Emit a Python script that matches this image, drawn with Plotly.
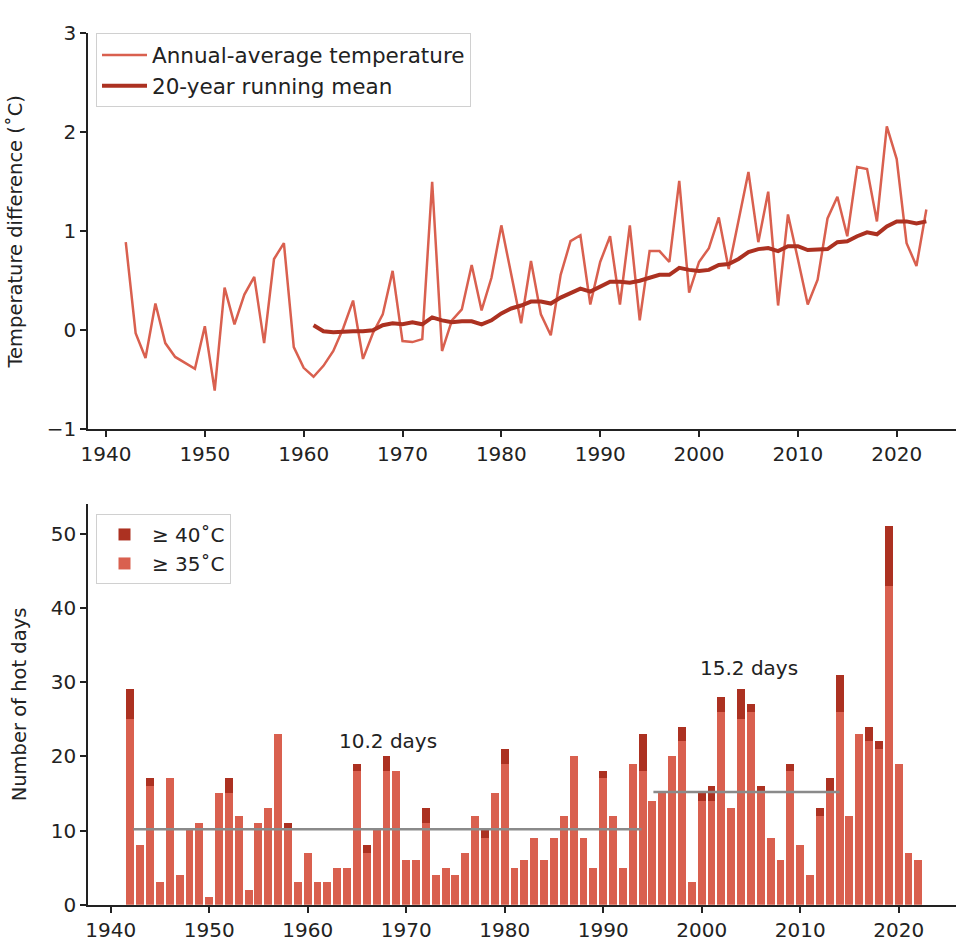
import plotly.graph_objects as go

# ---------------- data ----------------
years_temp = list(range(1942, 2024))
annual_temp = [0.89, -0.03, -0.28, 0.27, -0.13, -0.27, -0.33, -0.39, 0.04, -0.61,
               0.43, 0.06, 0.36, 0.54, -0.13, 0.72, 0.88, -0.17, -0.38, -0.47,
               -0.36, -0.21, 0.02, 0.30, -0.29, -0.03, 0.16, 0.60, -0.11, -0.12,
               -0.09, 1.50, -0.21, 0.10, 0.21, 0.66, 0.20, 0.53, 1.06, 0.56,
               0.07, 0.70, 0.16, -0.05, 0.56, 0.90, 0.96, 0.26, 0.69, 0.95,
               0.26, 1.06, 0.10, 0.80, 0.80, 0.69, 1.51, 0.38, 0.69, 0.83,
               1.14, 0.62, 1.10, 1.60, 0.89, 1.40, 0.25, 1.17, 0.72, 0.26,
               0.51, 1.13, 1.35, 0.95, 1.65, 1.63, 1.10, 2.06, 1.73, 0.88,
               0.65, 1.22]

years_mean = list(range(1961, 2024))
running_mean = [0.05, -0.01, -0.02, -0.01, -0.01, -0.01, 0.00, 0.05, 0.07, 0.06,
                0.08, 0.06, 0.13, 0.10, 0.08, 0.09, 0.09, 0.06, 0.10, 0.17,
                0.22, 0.25, 0.29, 0.29, 0.27, 0.33, 0.38, 0.42, 0.39, 0.44,
                0.49, 0.49, 0.48, 0.50, 0.53, 0.56, 0.56, 0.63, 0.61, 0.60,
                0.61, 0.66, 0.67, 0.72, 0.79, 0.82, 0.83, 0.80, 0.85, 0.85,
                0.81, 0.82, 0.82, 0.89, 0.90, 0.95, 0.99, 0.97, 1.05, 1.10,
                1.10, 1.08, 1.10]

years_hot = list(range(1942, 2023))
days_35 = [29, 8, 17, 3, 17, 4, 10, 11, 1, 15,
           17, 12, 2, 11, 13, 23, 11, 3, 7, 3,
           3, 5, 5, 19, 8, 10, 20, 18, 6, 6,
           13, 4, 5, 4, 7, 12, 10, 15, 21, 5,
           6, 9, 6, 9, 12, 20, 9, 5, 18, 12,
           5, 19, 23, 14, 15, 20, 24, 3, 15, 16,
           28, 13, 29, 27, 16, 9, 6, 19, 8, 4,
           13, 17, 31, 12, 23, 24, 22, 51, 19, 7,
           6]
days_40_by_year = {1942: 4, 1944: 1, 1952: 2, 1958: 1, 1965: 1, 1966: 1, 1968: 2,
                   1972: 2, 1978: 1, 1980: 2, 1990: 1, 1994: 5, 1998: 2, 2000: 1,
                   2001: 2, 2002: 2, 2004: 4, 2005: 1, 2006: 1, 2009: 1, 2012: 1,
                   2013: 2, 2014: 5, 2017: 2, 2018: 1, 2019: 8}
days_40 = [days_40_by_year.get(y, 0) for y in years_hot]

period_means = [10.2, 15.2]
period_spans = [[1942.3, 1993.9], [1995.1, 2014.0]]
period_labels = ["10.2 days", "15.2 days"]
label_pos = [[1968.15, 22.1], [2004.8, 31.9]]

# ---------------- style ----------------
LIGHT = "#d9604f"
DARK = "#ac3121"
FONT = "DejaVu Sans"
TXT = "#222222"

fig = go.Figure()

fig.add_trace(go.Scatter(x=years_temp, y=annual_temp, mode="lines",
                         line=dict(color=LIGHT, width=2.5),
                         name="Annual-average temperature",
                         xaxis="x", yaxis="y", legend="legend"))
fig.add_trace(go.Scatter(x=years_mean, y=running_mean, mode="lines",
                         line=dict(color=DARK, width=4),
                         name="20-year running mean",
                         xaxis="x", yaxis="y", legend="legend"))

light_part = [t - d for t, d in zip(days_35, days_40)]
fig.add_trace(go.Bar(x=years_hot, y=light_part, width=0.8,
                     marker=dict(color=LIGHT, line=dict(width=0)),
                     name="≥ 35˚C", xaxis="x2", yaxis="y2", legend="legend2"))
fig.add_trace(go.Bar(x=years_hot, y=days_40, width=0.8,
                     marker=dict(color=DARK, line=dict(width=0)),
                     name="≥ 40˚C", xaxis="x2", yaxis="y2", legend="legend2"))

for m, span in zip(period_means, period_spans):
    fig.add_trace(go.Scatter(x=span, y=[m, m], mode="lines",
                             line=dict(color="#8a8a8a", width=2.5),
                             showlegend=False, xaxis="x2", yaxis="y2"))

for lab, pos in zip(period_labels, label_pos):
    fig.add_annotation(x=pos[0], y=pos[1], xref="x2", yref="y2", text=lab,
                       showarrow=False, font=dict(family=FONT, size=20, color=TXT),
                       xanchor="center", yanchor="middle")

H = 948.0
axis_common = dict(showline=True, linecolor="#222222", linewidth=1.5,
                   ticks="outside", ticklen=6, tickwidth=1.5, tickcolor="#222222",
                   showgrid=False, zeroline=False,
                   tickfont=dict(family=FONT, size=20, color=TXT))

fig.update_layout(
    width=956, height=948,
    margin=dict(l=88, r=0, t=0, b=0),
    paper_bgcolor="white", plot_bgcolor="white",
    font=dict(family=FONT, color=TXT),
    barmode="relative", bargap=0,
    xaxis=dict(domain=[0, 1], range=[1938.18, 2026.0], anchor="y",
               tickvals=[1940, 1950, 1960, 1970, 1980, 1990, 2000, 2010, 2020],
               **axis_common),
    yaxis=dict(domain=[(H - 428) / H, (H - 22) / H], range=[-1, 3], anchor="x",
               tickvals=[-1, 0, 1, 2, 3],
               title=dict(text="Temperature difference (˚C)",
                          font=dict(family=FONT, size=19.5, color=TXT), standoff=19),
               **axis_common),
    xaxis2=dict(domain=[0, 1], range=[1937.70, 2025.82], anchor="y2",
                tickvals=[1940, 1950, 1960, 1970, 1980, 1990, 2000, 2010, 2020],
                **axis_common),
    yaxis2=dict(domain=[(H - 916) / H, (H - 505) / H], range=[0, 54], anchor="x2",
                tickvals=[0, 10, 20, 30, 40, 50],
                title=dict(text="Number of hot days",
                           font=dict(family=FONT, size=19.5, color=TXT), standoff=19),
                **axis_common),
    legend=dict(x=(96 - 88) / 868, y=(H - 22) / H, xanchor="left", yanchor="top",
                bgcolor="white", bordercolor="#d0d0d0", borderwidth=1,
                font=dict(family=FONT, size=21.5, color=TXT), traceorder="normal",
                itemwidth=45, tracegroupgap=4),
    legend2=dict(x=(96 - 88) / 868, y=(H - 515) / H, xanchor="left", yanchor="top",
                 bgcolor="white", bordercolor="#d0d0d0", borderwidth=1,
                 font=dict(family=FONT, size=20, color=TXT), traceorder="reversed",
                 itemwidth=45),
)

fig.write_html("out.html")
